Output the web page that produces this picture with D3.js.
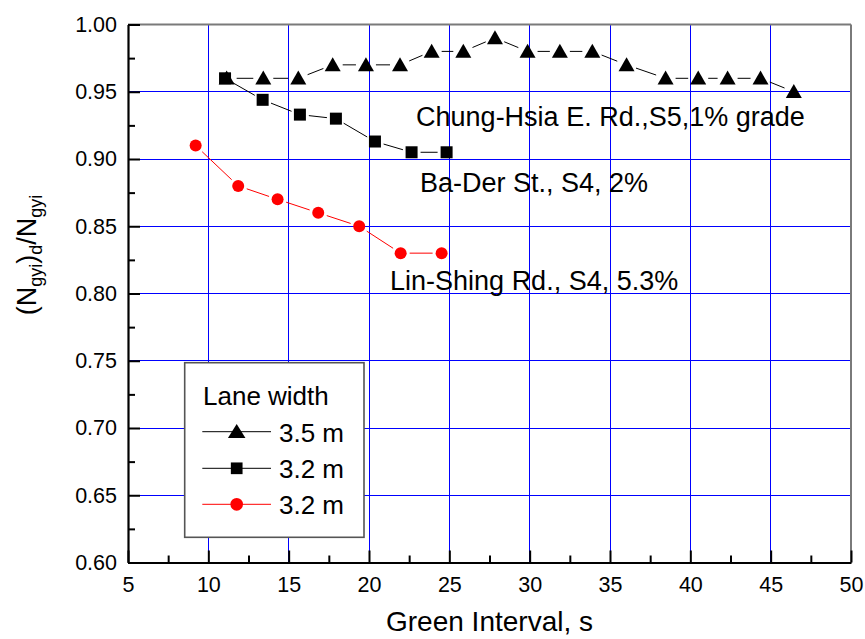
<!DOCTYPE html>
<html><head><meta charset="utf-8">
<script src="https://cdn.jsdelivr.net/npm/d3@7/dist/d3.min.js"></script>
<style>
body{margin:0;background:#fff}
svg text{font-family:"Liberation Sans",Arial,Helvetica,sans-serif;fill:#000}
</style>
</head><body>
<svg id="chart" width="865" height="639"></svg>
<script>
// ---- data ----
const xTicks = [5, 10, 15, 20, 25, 30, 35, 40, 45, 50];
const xMinor = [7.5, 12.5, 17.5, 22.5, 27.5, 32.5, 37.5, 42.5, 47.5];
const yTicks = [0.60, 0.65, 0.70, 0.75, 0.80, 0.85, 0.90, 0.95, 1.00];
const yMinor = [0.625, 0.675, 0.725, 0.775, 0.825, 0.875, 0.925, 0.975];

const triX = [11.14, 13.42, 15.6, 17.74, 19.81, 21.93, 23.9, 25.87, 27.84, 29.87, 31.88, 33.9, 36.03, 38.46, 40.49, 42.32, 44.37, 46.44];
const triY = [0.96, 0.96, 0.96, 0.97, 0.97, 0.97, 0.98, 0.98, 0.99, 0.98, 0.98, 0.98, 0.97, 0.96, 0.96, 0.96, 0.96, 0.95];
const sqX = [11.04, 13.38, 15.7, 17.94, 20.37, 22.65, 24.83];
const sqY = [0.96, 0.944, 0.933, 0.930, 0.913, 0.905, 0.905];
const ciX = [9.21, 11.86, 14.31, 16.84, 19.39, 21.97, 24.52];
const ciY = [0.910, 0.880, 0.870, 0.860, 0.850, 0.830, 0.830];

const legendTitle = "Lane width";
const legendLabels = ["3.5 m", "3.2 m", "3.2 m"];
const annotationTexts = ["Chung-Hsia E. Rd.,S5,1% grade", "Ba-Der St., S4, 2%", "Lin-Shing Rd., S4, 5.3%"];
const xTitle = "Green Interval, s";

// ---- layout ----
const L = 128, R = 851, T = 24.5, B = 562.5;
const svg = d3.select("#chart");
const x = d3.scaleLinear().domain([5, 50]).range([L, R]);
const y = d3.scaleLinear().domain([0.6, 1.0]).range([B, T]);

// grid
const grid = svg.append("g");
grid.selectAll("line.v").data(xTicks.slice(1, -1)).join("line")
  .attr("x1", d => x(d)).attr("x2", d => x(d)).attr("y1", T).attr("y2", B)
  .attr("stroke", "#0000ff").attr("stroke-width", 1).attr("shape-rendering", "crispEdges");
grid.selectAll("line.h").data(yTicks.slice(1, -1)).join("line")
  .attr("y1", d => y(d)).attr("y2", d => y(d)).attr("x1", L).attr("x2", R)
  .attr("stroke", "#0000ff").attr("stroke-width", 1).attr("shape-rendering", "crispEdges");

// top / right frame (grey)
svg.append("line").attr("x1", L).attr("x2", R).attr("y1", T).attr("y2", T)
  .attr("stroke", "#7a7a7a").attr("stroke-width", 2);
svg.append("line").attr("x1", R).attr("x2", R).attr("y1", T).attr("y2", B)
  .attr("stroke", "#7a7a7a").attr("stroke-width", 2);

// axes
const fmtY = d3.format(".2f");
const xAxis = svg.append("g").attr("transform", `translate(0,${B})`)
  .call(d3.axisBottom(x).tickValues(xTicks).tickFormat(d3.format("d")).tickSize(-12).tickSizeOuter(0).tickPadding(14));
const xAxisMinor = svg.append("g").attr("transform", `translate(0,${B})`)
  .call(d3.axisBottom(x).tickValues(xMinor).tickFormat("").tickSize(-7).tickSizeOuter(0));
const yAxis = svg.append("g").attr("transform", `translate(${L},0)`)
  .call(d3.axisLeft(y).tickValues(yTicks).tickFormat(fmtY).tickSize(-12).tickSizeOuter(0).tickPadding(11));
const yAxisMinor = svg.append("g").attr("transform", `translate(${L},0)`)
  .call(d3.axisLeft(y).tickValues(yMinor).tickFormat("").tickSize(-7).tickSizeOuter(0));
[xAxisMinor, yAxisMinor].forEach(g => g.select(".domain").remove());
[xAxis, yAxis, xAxisMinor, yAxisMinor].forEach(g => {
  g.selectAll(".tick line").attr("stroke", "#000").attr("stroke-width", 2);
  g.select(".domain").attr("stroke", "#000").attr("stroke-width", 2.2);
  g.selectAll("text").attr("font-size", 21.5).attr("fill", "#000")
    .attr("font-family", '"Liberation Sans",Arial,sans-serif');
});

// axis titles
svg.append("text").attr("x", (L + R) / 2).attr("y", 631).attr("text-anchor", "middle")
  .attr("font-size", 28).text(xTitle);

const yt = svg.append("text").attr("transform", "translate(36,255) rotate(-90)")
  .attr("text-anchor", "middle").attr("font-size", 27);
yt.append("tspan").text("(N");
yt.append("tspan").attr("font-size", 18).attr("dy", 6).text("gyi");
yt.append("tspan").attr("dy", -6).text(")");
yt.append("tspan").attr("font-size", 18).attr("dy", 6).text("d");
yt.append("tspan").attr("dy", -6).text("/N");
yt.append("tspan").attr("font-size", 18).attr("dy", 6).text("gyi");

// series helpers
function gappedSegments(xs, ys, gap) {
  const segs = [];
  for (let i = 0; i < xs.length - 1; i++) {
    const x1 = x(xs[i]), y1 = y(ys[i]), x2 = x(xs[i + 1]), y2 = y(ys[i + 1]);
    const dx = x2 - x1, dy = y2 - y1, d = Math.hypot(dx, dy);
    if (d > 2 * gap) {
      const ux = dx / d, uy = dy / d;
      segs.push([x1 + ux * gap, y1 + uy * gap, x2 - ux * gap, y2 - uy * gap]);
    }
  }
  return segs;
}
function drawSegs(segs, color) {
  svg.append("g").selectAll("line").data(segs).join("line")
    .attr("x1", s => s[0]).attr("y1", s => s[1]).attr("x2", s => s[2]).attr("y2", s => s[3])
    .attr("stroke", color).attr("stroke-width", 1);
}
const triPath = (w, h) => `M0,${-h * 0.55}L${w / 2},${h * 0.45}L${-w / 2},${h * 0.45}Z`;

// lines
drawSegs(gappedSegments(sqX, sqY, 9), "#000");
drawSegs(gappedSegments(ciX, ciY, 9), "#ff0000");
drawSegs(gappedSegments(triX, triY, 10), "#000");

// markers
svg.append("g").selectAll("path").data(sqX.map((v, i) => [v, sqY[i]])).join("path")
  .attr("d", d3.symbol().type(d3.symbolSquare).size(144))
  .attr("transform", d => `translate(${x(d[0])},${y(d[1])})`).attr("fill", "#000");
svg.append("g").selectAll("path").data(ciX.map((v, i) => [v, ciY[i]])).join("path")
  .attr("d", d3.symbol().type(d3.symbolCircle).size(Math.PI * 36))
  .attr("transform", d => `translate(${x(d[0])},${y(d[1])})`).attr("fill", "#ff0000");
svg.append("g").selectAll("path").data(triX.map((v, i) => [v, triY[i]])).join("path")
  .attr("d", triPath(16, 14))
  .attr("transform", d => `translate(${x(d[0])},${y(d[1])})`).attr("fill", "#000");

// annotations (placed in data coordinates)
const annPos = [[22.93, 0.9245], [23.17, 0.8757], [21.31, 0.8026]];
svg.append("g").selectAll("text").data(annotationTexts).join("text")
  .attr("x", (d, i) => x(annPos[i][0])).attr("y", (d, i) => y(annPos[i][1]))
  .attr("font-size", 27).text(d => d);

// legend
const lg = svg.append("g");
lg.append("rect").attr("x", 184.7).attr("y", 362.7).attr("width", 179.3).attr("height", 174.6)
  .attr("fill", "#fff").attr("stroke", "#555").attr("stroke-width", 1.6);
lg.append("text").attr("x", 203).attr("y", 405).attr("font-size", 26).text(legendTitle);
const rowY = [431.7, 468.3, 504.3];
const rowColor = ["#000", "#000", "#ff0000"];
legendLabels.forEach((lab, i) => {
  lg.append("line").attr("x1", 202.3).attr("x2", 271).attr("y1", rowY[i]).attr("y2", rowY[i])
    .attr("stroke", rowColor[i]).attr("stroke-width", 1);
  let m;
  if (i === 0) m = lg.append("path").attr("d", triPath(17.5, 14));
  else if (i === 1) m = lg.append("path").attr("d", d3.symbol().type(d3.symbolSquare).size(137)());
  else m = lg.append("path").attr("d", d3.symbol().type(d3.symbolCircle).size(Math.PI * 40)());
  m.attr("transform", `translate(236.7,${rowY[i]})`).attr("fill", rowColor[i]);
  lg.append("text").attr("x", 279).attr("y", rowY[i] + 10).attr("font-size", 26).text(lab);
});
</script>
</body></html>
